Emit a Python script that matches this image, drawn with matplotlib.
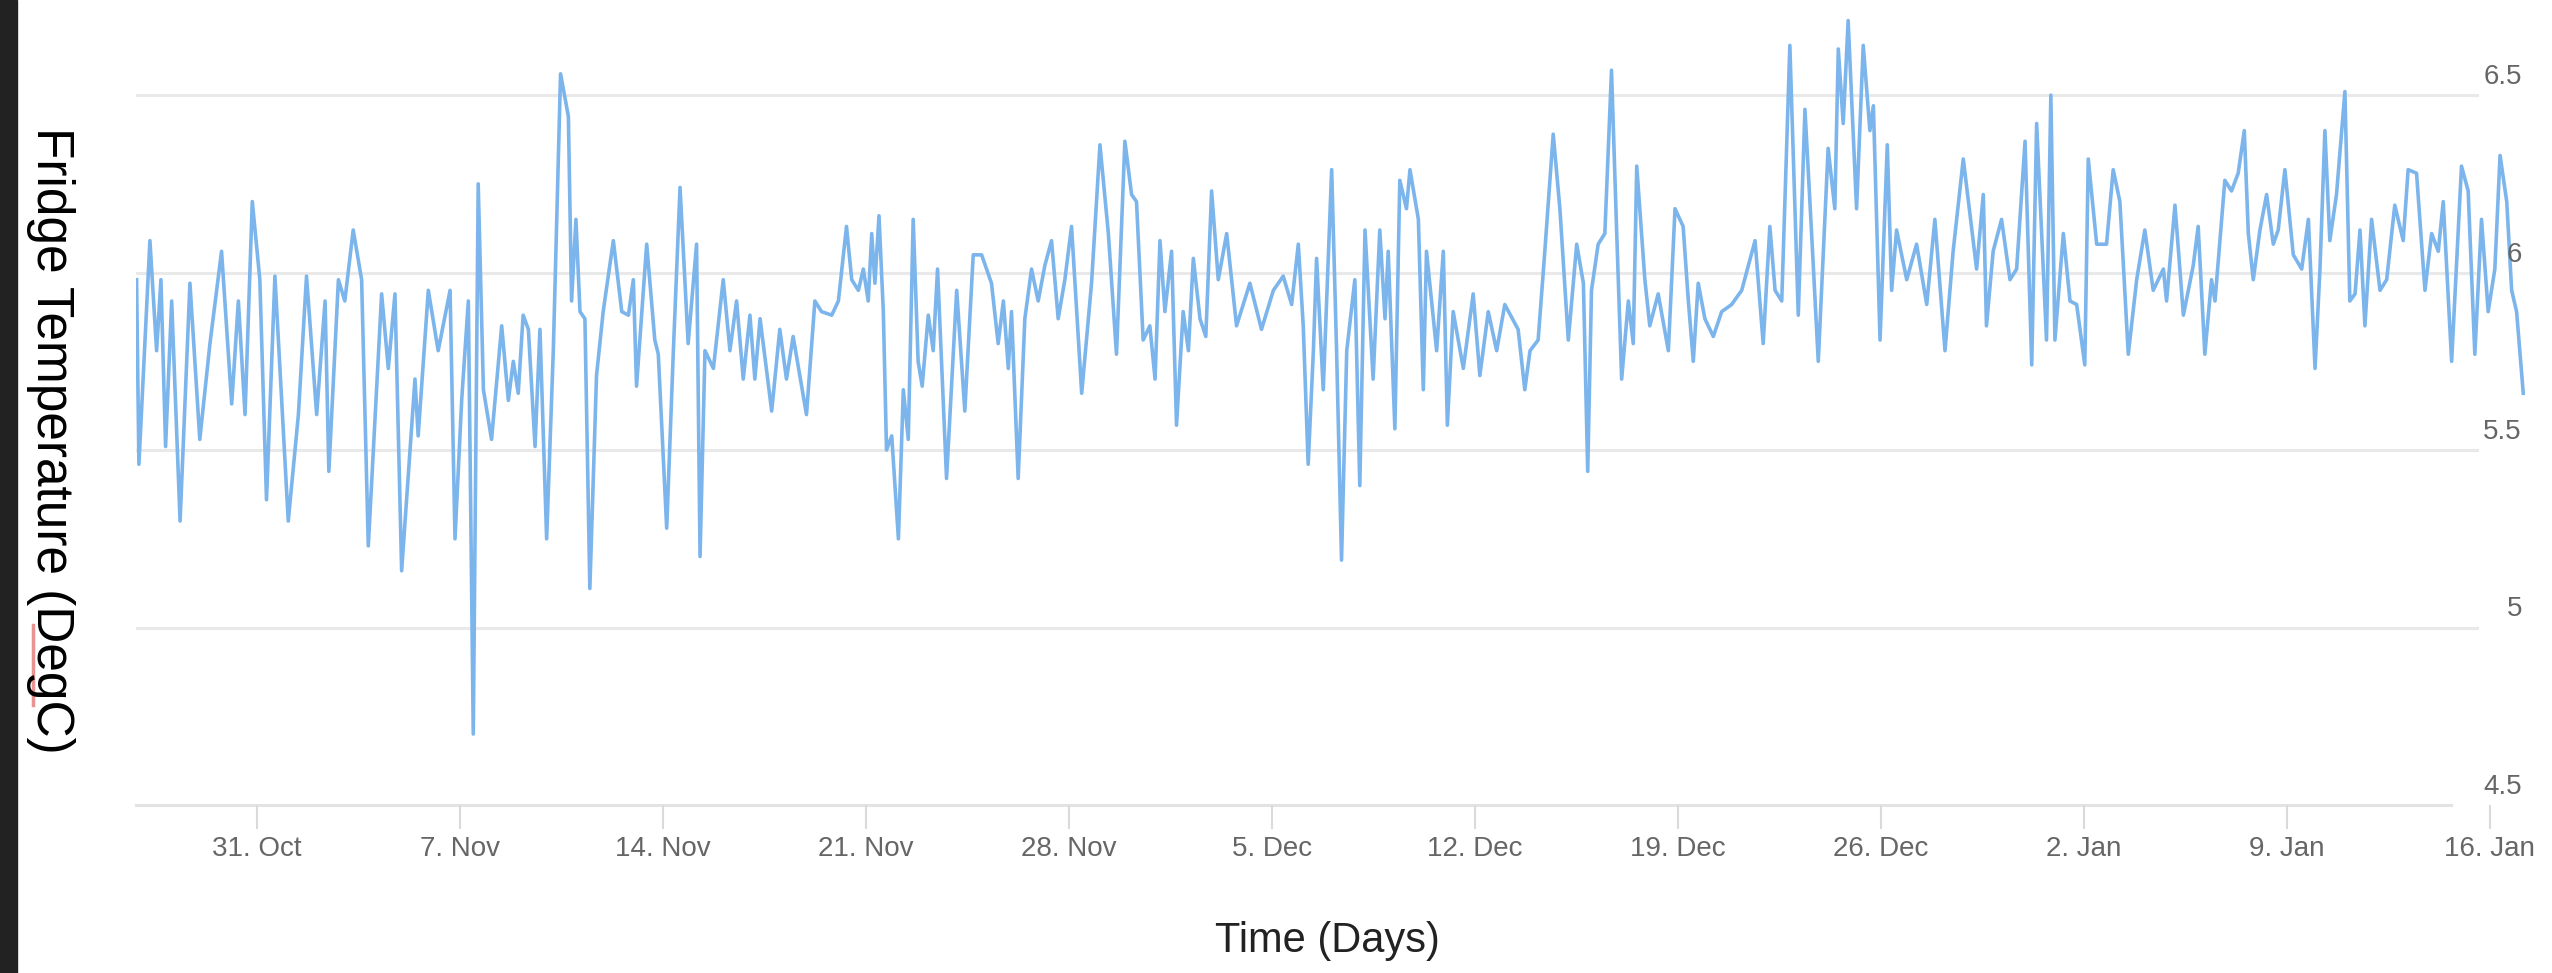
import pandas as pd
import matplotlib
matplotlib.use('Agg')
import matplotlib.pyplot as plt
import matplotlib.dates as mdates
from matplotlib.transforms import blended_transform_factory, offset_copy
from matplotlib.patches import Rectangle
from matplotlib.lines import Line2D

plt.rcParams['font.family'] = ['Liberation Sans', 'DejaVu Sans']

# readings: days since 26 Oct 2016 and fridge temperature (DegC)
start = pd.Timestamp('2016-10-26')
days = [
    0.85, 0.93, 1.31, 1.54, 1.69, 1.85, 2.06, 2.35, 2.69, 3.03, 3.38, 3.78, 4.13, 4.36, 4.59, 4.84,
    5.10, 5.33, 5.62, 6.08, 6.43, 6.71, 7.06, 7.35, 7.48, 7.81, 8.03, 8.32, 8.61, 8.84, 9.30, 9.53,
    9.76, 9.99, 10.45, 10.56, 10.91, 11.25, 11.66, 11.83, 12.06, 12.29,
    12.46, 12.63, 12.81, 13.09, 13.44, 13.67, 13.84, 14.01, 14.18, 14.36, 14.59, 14.76, 14.99, 15.22,
    15.47, 15.74, 15.85, 16.00, 16.14, 16.31, 16.48, 16.71, 16.94, 17.29, 17.58, 17.81, 17.98, 18.09,
    18.44, 18.72, 18.84, 19.13, 19.36, 19.59, 19.87, 20.16, 20.28, 20.45, 20.74, 21.08, 21.31, 21.54,
    21.77, 22.00, 22.17, 22.35, 22.75, 23.03, 23.26, 23.49, 23.95,
    24.24, 24.47, 24.82, 25.05, 25.33, 25.51, 25.74, 25.91, 26.08, 26.20, 26.31, 26.45, 26.60, 26.71,
    26.89, 27.12, 27.29, 27.46, 27.63, 27.80, 27.94, 28.15, 28.32, 28.47, 28.78, 29.13, 29.41, 29.70,
    29.99, 30.33, 30.56, 30.74, 30.91, 31.02, 31.25, 31.48, 31.71, 31.94, 32.17, 32.40, 32.63, 32.86,
    33.09, 33.44, 33.78, 34.07, 34.36, 34.64, 34.93, 35.16, 35.33, 35.56, 35.79, 35.97, 36.14,
    36.31, 36.54, 36.71, 36.94, 37.12, 37.29, 37.52, 37.72, 37.92, 38.15, 38.44, 38.78, 39.24, 39.64,
    40.05, 40.39, 40.68, 40.91, 41.08, 41.25, 41.43, 41.54, 41.77, 42.06, 42.23, 42.40, 42.58, 42.86,
    43.03, 43.21, 43.49, 43.72, 43.90, 44.01, 44.24, 44.41, 44.64, 44.76, 45.05, 45.22, 45.33, 45.68,
    45.91, 46.05, 46.25, 46.60, 46.94, 47.17, 47.46, 47.75,
    48.03, 48.49, 48.72, 48.90, 49.18, 49.41, 49.70, 49.93, 50.22, 50.51, 50.74, 50.89, 51.02, 51.25,
    51.48, 51.71, 51.89, 52.06, 52.29, 52.46, 52.58, 52.86, 53.03, 53.32, 53.67, 53.90, 54.18, 54.36,
    54.53, 54.70, 54.93, 55.22, 55.51, 55.85, 56.20, 56.66, 56.94, 57.17, 57.35, 57.58, 57.86, 58.15,
    58.38, 58.61, 58.84, 59.18, 59.41, 59.53, 59.70, 59.87,
    60.16, 60.39, 60.62, 60.74, 60.97, 61.22, 61.37, 61.54, 61.89, 62.23, 62.58, 62.86, 63.21, 63.49,
    63.84, 64.30, 64.53, 64.64, 64.87, 65.16, 65.45, 65.68, 65.97, 66.20, 66.37, 66.71, 66.86, 67.00,
    67.29, 67.52, 67.75, 68.03, 68.15, 68.44, 68.78, 69.01, 69.24, 69.53, 69.82, 70.10, 70.39, 70.74,
    70.85, 71.14, 71.43, 71.77, 71.94,
    72.17, 72.40, 72.52, 72.86, 73.09, 73.32, 73.53, 73.67, 73.84, 74.07, 74.30, 74.53, 74.70, 74.93,
    75.22, 75.51, 75.74, 75.97, 76.14, 76.31, 76.48, 76.71, 77.00, 77.17, 77.35, 77.52, 77.69, 77.92,
    78.21, 78.44, 78.72, 79.01, 79.18, 79.47, 79.76, 79.99, 80.22, 80.39, 80.68, 81.02, 81.25, 81.48,
    81.71, 81.94, 82.17, 82.35, 82.58, 82.75, 82.92, 83.15,
]
temps = [
    5.98, 5.46, 6.09, 5.78, 5.98, 5.51, 5.92, 5.30, 5.97, 5.53, 5.80, 6.06, 5.63, 5.92, 5.60, 6.20,
    5.98, 5.36, 5.99, 5.30, 5.60, 5.99, 5.60, 5.92, 5.44, 5.98, 5.92, 6.12, 5.98, 5.23, 5.94, 5.73,
    5.94, 5.16, 5.70, 5.54, 5.95, 5.78, 5.95, 5.25, 5.64, 5.92,
    4.70, 6.25, 5.67, 5.53, 5.85, 5.64, 5.75, 5.66, 5.88, 5.84, 5.51, 5.84, 5.25, 5.78,
    6.56, 6.44, 5.92, 6.15, 5.89, 5.87, 5.11, 5.71, 5.89, 6.09, 5.89, 5.88, 5.98, 5.68,
    6.08, 5.81, 5.77, 5.28, 5.78, 6.24, 5.80, 6.08, 5.20, 5.78, 5.73, 5.98, 5.78, 5.92,
    5.70, 5.88, 5.70, 5.87, 5.61, 5.84, 5.70, 5.82, 5.60,
    5.92, 5.89, 5.88, 5.92, 6.13, 5.98, 5.95, 6.01, 5.92, 6.11, 5.97, 6.16, 5.89, 5.50,
    5.54, 5.25, 5.67, 5.53, 6.15, 5.75, 5.68, 5.88, 5.78, 6.01, 5.42, 5.95, 5.61, 6.05,
    6.05, 5.97, 5.80, 5.92, 5.73, 5.89, 5.42, 5.87, 6.01, 5.92, 6.02, 6.09, 5.87, 5.98,
    6.13, 5.66, 5.97, 6.36, 6.11, 5.77, 6.37, 6.22, 6.20, 5.81, 5.85, 5.70, 6.09,
    5.89, 6.06, 5.57, 5.89, 5.78, 6.04, 5.87, 5.82, 6.23, 5.98, 6.11, 5.85, 5.97, 5.84,
    5.95, 5.99, 5.91, 6.08, 5.85, 5.46, 5.78, 6.04, 5.67, 6.29, 5.78, 5.19, 5.78, 5.98,
    5.40, 6.12, 5.70, 6.12, 5.87, 6.06, 5.56, 6.26, 6.18, 6.29, 6.15, 5.67, 6.06, 5.78,
    6.06, 5.57, 5.89, 5.73, 5.94, 5.71, 5.89, 5.78,
    5.91, 5.84, 5.67, 5.78, 5.81, 6.06, 6.39, 6.18, 5.81, 6.08, 5.97, 5.44, 5.95, 6.08,
    6.11, 6.57, 6.11, 5.70, 5.92, 5.80, 6.30, 5.98, 5.85, 5.94, 5.78, 6.18, 6.13, 5.92,
    5.75, 5.97, 5.87, 5.82, 5.89, 5.91, 5.95, 6.09, 5.80, 6.13, 5.95, 5.92, 6.64, 5.88,
    6.46, 6.11, 5.75, 6.35, 6.18, 6.63, 6.42, 6.71,
    6.18, 6.64, 6.40, 6.47, 5.81, 6.36, 5.95, 6.12, 5.98, 6.08, 5.91, 6.15, 5.78, 6.06,
    6.32, 6.01, 6.22, 5.85, 6.06, 6.15, 5.98, 6.01, 6.37, 5.74, 6.42, 5.81, 6.50, 5.81,
    6.11, 5.92, 5.91, 5.74, 6.32, 6.08, 6.08, 6.29, 6.20, 5.77, 5.98, 6.12, 5.95, 6.01,
    5.92, 6.19, 5.88, 6.02, 6.13,
    5.77, 5.98, 5.92, 6.26, 6.23, 6.28, 6.40, 6.11, 5.98, 6.12, 6.22, 6.08, 6.12, 6.29,
    6.05, 6.01, 6.15, 5.73, 6.01, 6.40, 6.09, 6.22, 6.51, 5.92, 5.94, 6.12, 5.85, 6.15,
    5.95, 5.98, 6.19, 6.09, 6.29, 6.28, 5.95, 6.11, 6.06, 6.20, 5.75, 6.30, 6.23, 5.77,
    6.15, 5.89, 6.01, 6.33, 6.20, 5.95, 5.89, 5.66,
]
times = start + pd.to_timedelta(days, unit='D')

tick_dates = pd.date_range('2016-10-31', '2017-01-16', freq='7D')
tick_labels = [f"{d.day}. {d.strftime('%b')}" for d in tick_dates]
y_ticks = [4.5, 5, 5.5, 6, 6.5]
y_tick_labels = ['4.5', '5', '5.5', '6', '6.5']

W, H = 2552, 973
fig = plt.figure(figsize=(W / 100, H / 100), dpi=100)
fig.patch.set_facecolor('white')
ax = fig.add_axes([136 / W, 1 - 805 / H, (2525 - 136) / W, 805 / H])

ax.plot(times, temps, color='#7cb5ec', lw=2.6, solid_joinstyle='round', zorder=3)

ax.set_xlim(start + pd.Timedelta(days=0.83), start + pd.Timedelta(days=83.21))
ax.set_ylim(4.5, 6.768)

for v in y_ticks[1:]:
    ax.axhline(v, xmin=0, xmax=0.98, color='#e9e9e9', lw=2.2, zorder=1)
ax.axhline(4.5, xmin=0, xmax=0.969, color='#e3e3e3', lw=2.2, zorder=1, clip_on=False)

for s in ax.spines.values():
    s.set_visible(False)
ax.set_yticks([])
ax.set_xticks(mdates.date2num(tick_dates))
ax.set_xticklabels(tick_labels)
ax.tick_params(axis='x', length=17, width=1.5, color='#dadada', pad=5,
               labelsize=20, labelcolor='#666666')

trans = blended_transform_factory(ax.transAxes, ax.transData)
trans = offset_copy(trans, fig=fig, y=13, units='points')
for v, lab in zip(y_ticks, y_tick_labels):
    ax.text(0.9987, v, lab, transform=trans, ha='right', va='center',
            fontsize=20, color='#666666', clip_on=False)

fig.text(1327 / W, 1 - 941 / H, 'Time (Days)', ha='center', va='center',
         fontsize=30, color='#222222')
fig.text(50 / W, 1 - 440 / H, 'Fridge Temperature (DegC)', rotation=270,
         ha='center', va='center', fontsize=37, color='black')

# dark window edge and the spell-check mark under "DegC"
fig.add_artist(Rectangle((0, 0), 17 / W, 1, transform=fig.transFigure,
                         color='#222222', zorder=5))
fig.add_artist(Line2D([33 / W, 33 / W], [1 - 625 / H, 1 - 705 / H],
                      transform=fig.transFigure, color='#e06666', lw=2.5, alpha=0.7))

fig.savefig('out.png', dpi=100)
